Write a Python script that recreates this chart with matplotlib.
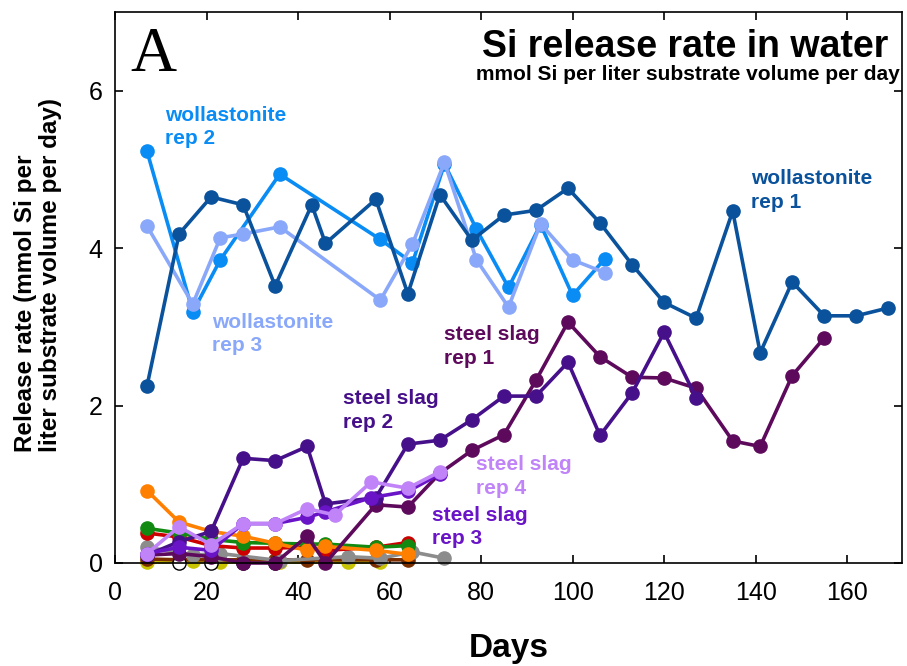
import matplotlib
matplotlib.use('Agg')
import matplotlib.pyplot as plt

plt.rcParams['font.family'] = ['Liberation Sans', 'DejaVu Sans']

# wollastonite
days_w1 = [7, 14, 21, 28, 35, 43, 46, 57, 64, 71, 78, 85, 92, 99, 106, 113, 120, 127, 135, 141, 148, 155, 162, 169]
w1 = [2.25, 4.18, 4.65, 4.55, 3.52, 4.55, 4.06, 4.62, 3.42, 4.68, 4.1, 4.42, 4.48, 4.76, 4.32, 3.79, 3.31, 3.11, 4.47, 2.67, 3.57, 3.14, 3.14, 3.24]
days_w2 = [7, 17, 23, 36, 58, 65, 72, 79, 86, 93, 100, 107]
w2 = [5.23, 3.19, 3.85, 4.94, 4.11, 3.81, 5.07, 4.24, 3.5, 4.3, 3.4, 3.86]
days_w3 = [7, 17, 23, 28, 36, 58, 65, 72, 79, 86, 93, 100, 107]
w3 = [4.28, 3.29, 4.13, 4.18, 4.27, 3.34, 4.05, 5.09, 3.85, 3.25, 4.31, 3.85, 3.69]

# steel slag
days_s1 = [7, 14, 21, 28, 35, 42, 46, 57, 64, 71, 78, 85, 92, 99, 106, 113, 120, 127, 135, 141, 148, 155]
s1 = [0.1, 0.12, 0.08, 0.0, 0.0, 0.34, 0.0, 0.74, 0.71, 1.14, 1.43, 1.63, 2.32, 3.06, 2.62, 2.36, 2.35, 2.22, 1.55, 1.48, 2.38, 2.86]
days_s2 = [7, 14, 21, 28, 35, 42, 46, 57, 64, 71, 78, 85, 92, 99, 106, 113, 120, 127]
s2 = [0.1, 0.27, 0.4, 1.33, 1.3, 1.48, 0.75, 0.83, 1.51, 1.56, 1.82, 2.12, 2.12, 2.55, 1.62, 2.16, 2.93, 2.1]
days_s3 = [7, 14, 21, 28, 35, 42, 46, 56, 64, 71]
s3 = [0.12, 0.2, 0.16, 0.5, 0.5, 0.58, 0.65, 0.83, 0.91, 1.13]
days_s4 = [7, 14, 21, 28, 35, 42, 48, 56, 64, 71]
s4 = [0.12, 0.46, 0.23, 0.5, 0.5, 0.69, 0.61, 1.03, 0.95, 1.16]

# other substrates (low release)
days_o = [7, 14, 21, 28, 35, 42, 46, 57, 64]
orange = [0.92, 0.52, 0.4, 0.34, 0.25, 0.16, 0.21, 0.16, 0.11]
green = [0.44, 0.38, 0.3, 0.26, 0.25, 0.24, 0.24, 0.2, 0.22]
red = [0.38, 0.33, 0.22, 0.19, 0.19, 0.2, 0.16, 0.2, 0.26]
brown = [0.05, 0.04, 0.04, 0.04, 0.04, 0.04, 0.04, 0.04, 0.04]
days_gray = [7, 17, 23, 36, 51, 58, 65, 72]
gray = [0.2, 0.1, 0.12, 0.03, 0.08, 0.06, 0.14, 0.06]
days_yel = [7, 17, 23, 36, 51, 58]
yel = [0.01, 0.02, 0.01, 0.01, 0.01, 0.01]
days_blk = [14, 21, 28, 35]
blk = [0.0, 0.0, 0.0, 0.0]

fig = plt.figure(figsize=(9.07, 6.66), dpi=100)
ax = fig.add_axes([0.1268, 0.1547, 0.8677, 0.8273])

kw = dict(marker='o', markersize=9.5, linewidth=2.6, clip_on=False)
ax.plot(days_yel, yel, color='#c8c400', **kw)
ax.plot(days_o, brown, color='#7a2e00', **kw)
ax.plot(days_blk, blk, color='black', marker='o', markersize=9.5, markerfacecolor='white',
        linestyle='none', clip_on=False)
ax.plot(days_gray, gray, color='#8c8c8c', **kw)
ax.plot(days_o, red, color='#cc0000', **kw)
ax.plot(days_o, green, color='#128a12', **kw)
ax.plot(days_o, orange, color='#ff8000', **kw)

ax.plot(days_s1, s1, color='#5e0a5c', **kw)
ax.plot(days_s2, s2, color='#46108a', **kw)
ax.plot(days_s3, s3, color='#6a14c8', **kw)
ax.plot(days_s4, s4, color='#c084f8', **kw)

ax.plot(days_w2, w2, color='#0a8cf5', **kw)
ax.plot(days_w3, w3, color='#8aa8fa', **kw)
ax.plot(days_w1, w1, color='#0a529c', **kw)

# labels on the lines
lab = dict(fontsize=15, fontweight='bold', ha='left', va='center', linespacing=1.3)
ax.text(10.9, 5.54, 'wollastonite\nrep 2', color='#0a8cf5', **lab)
ax.text(21.2, 2.91, 'wollastonite\nrep 3', color='#8aa8fa', **lab)
ax.text(139, 4.73, 'wollastonite\nrep 1', color='#0a529c', **lab)
ax.text(71.8, 2.75, 'steel slag\nrep 1', color='#5e0a5c', **lab)
ax.text(49.8, 1.94, 'steel slag\nrep 2', color='#46108a', **lab)
ax.text(79, 1.10, 'steel slag\nrep 4', color='#c084f8', **lab)
ax.text(69.2, 0.46, 'steel slag\nrep 3', color='#6a14c8', **lab)

ax.text(3.3, 6.44, 'A', family='Liberation Serif', fontsize=46, ha='left', va='center')
ax.text(169, 6.55, 'Si release rate in water', fontsize=27, fontweight='bold', ha='right', va='center')
ax.text(171.5, 6.2, 'mmol Si per liter substrate volume per day', fontsize=15, fontweight='bold',
        ha='right', va='center')

ax.set_xlim(0, 172)
ax.set_ylim(0, 7)
ax.set_xticks([0, 20, 40, 60, 80, 100, 120, 140, 160])
ax.set_yticks([0, 2, 4, 6])
ax.tick_params(direction='in', top=True, right=True, length=6, width=1.2, labelsize=18)
ax.tick_params(axis='x', pad=13)
ax.tick_params(axis='y', pad=9)
for s in ax.spines.values():
    s.set_linewidth(1.2)

ax.set_xlabel('Days', fontsize=24, fontweight='bold', labelpad=20)
fig.text(0.042, (666 - 452) / 666, 'Release rate (mmol Si per\nliter substrate volume per day)',
         rotation=90, fontsize=17.5, fontweight='bold', ha='center', va='bottom',
         multialignment='left', linespacing=1.15)

fig.savefig('out.png', dpi=100)
